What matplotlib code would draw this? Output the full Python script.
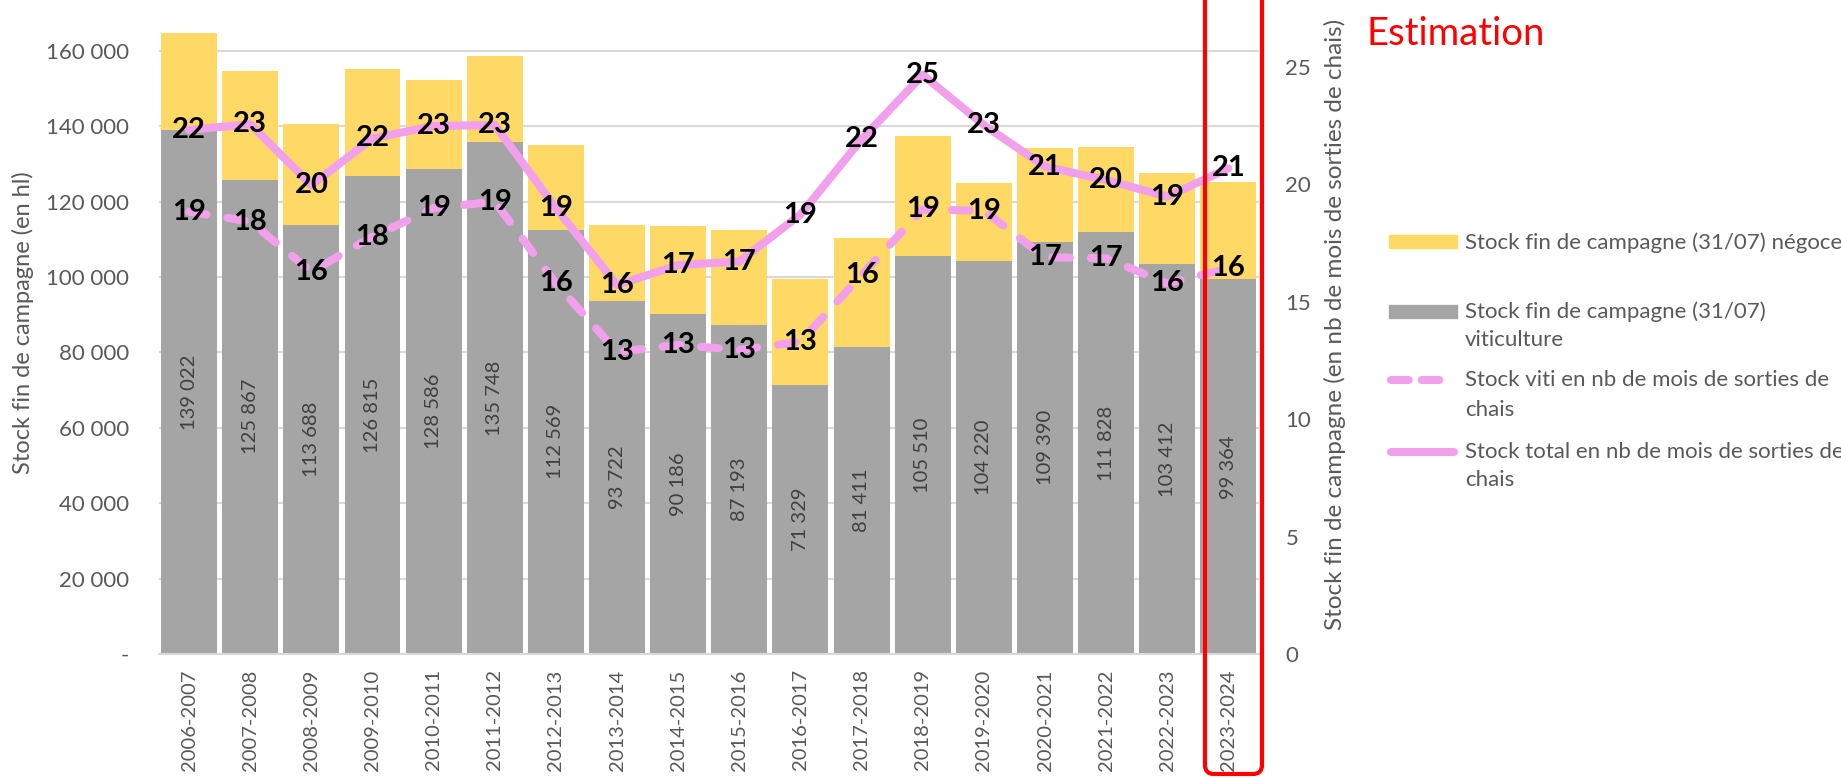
import matplotlib

matplotlib.use("Agg")
import matplotlib.pyplot as plt
import numpy as np
from matplotlib.lines import Line2D
from matplotlib.patches import FancyBboxPatch, Rectangle
from matplotlib.ticker import FuncFormatter
from matplotlib.transforms import IdentityTransform

campagnes = [
    "2006-2007", "2007-2008", "2008-2009", "2009-2010", "2010-2011", "2011-2012",
    "2012-2013", "2013-2014", "2014-2015", "2015-2016", "2016-2017", "2017-2018",
    "2018-2019", "2019-2020", "2020-2021", "2021-2022", "2022-2023", "2023-2024",
]
stock_viti = [139022, 125867, 113688, 126815, 128586, 135748, 112569, 93722, 90186,
              87193, 71329, 81411, 105510, 104220, 109390, 111828, 103412, 99364]
stock_negoce = [25650, 28740, 26880, 28300, 23790, 22820, 22370, 20160, 23430,
                25380, 28210, 28920, 32010, 20690, 24760, 22640, 24140, 25730]
mois_total = [22.3, 22.55, 19.95, 21.94, 22.47, 22.51, 18.97, 15.7, 16.55,
              16.7, 18.7, 21.9, 24.64, 22.51, 20.74, 20.17, 19.46, 20.67]
mois_total_labels = [22, 23, 20, 22, 23, 23, 19, 16, 17, 17, 19, 22, 25, 23, 21, 20, 19, 21]
mois_viti = [18.82, 18.4, 16.27, 17.76, 18.97, 19.25, 15.77, 12.86, 13.15,
             12.94, 13.29, 16.13, 18.92, 18.86, 16.88, 16.84, 15.77, 16.41]
mois_viti_labels = [19, 18, 16, 18, 19, 19, 16, 13, 13, 13, 13, 16, 19, 19, 17, 17, 16, 16]

YELLOW = "#FFD966"
GREY = "#A5A5A5"
PINK = "#F2A0EC"
TXT = "#595959"
GRID = "#D9D9D9"

plt.rcParams["font.family"] = ["Lato", "DejaVu Sans"]

W, H = 1841, 778
fig = plt.figure(figsize=(W / 100, H / 100), dpi=100)


def fx(px):
    return px / W


def fy(py):
    return 1 - py / H


# plot area: x 158..1259 px, y 0..654 px
ax = fig.add_axes([fx(158.5), fy(654), fx(1259) - fx(158.5), fy(0) - fy(654)])
ax2 = ax.twinx()

x = np.arange(len(campagnes))
ax.bar(x, stock_viti, width=0.915, color=GREY, zorder=2)
ax.bar(x, stock_negoce, bottom=stock_viti, width=0.915, color=YELLOW, zorder=2)
for i, v in enumerate(stock_viti):
    ax.text(i, v / 2, f"{v:,}".replace(",", " "), rotation=90, ha="center",
            va="center", fontsize=14.5, color="#404040", zorder=3)

ax.set_xlim(-0.5, len(campagnes) - 0.5)
ax.set_ylim(0, 173500)
ax.set_yticks(np.arange(0, 160001, 20000))
ax.yaxis.set_major_formatter(
    FuncFormatter(lambda v, _: "-" if v == 0 else f"{int(v):,}".replace(",", " ")))
ax.grid(axis="y", color=GRID, lw=1.5, zorder=0)
ax.set_axisbelow(True)
ax.set_xticks(x)
ax.set_xticklabels(campagnes, rotation=90, fontsize=14.5, color=TXT)
ax.tick_params(axis="x", length=0, pad=11)
ax.tick_params(axis="y", length=0, pad=21, labelsize=16, labelcolor=TXT)
for side in ["top", "left", "right"]:
    ax.spines[side].set_visible(False)
ax.spines["bottom"].set_color(GRID)
ax.spines["bottom"].set_linewidth(1.5)

ax2.plot(x, mois_viti, color=PINK, lw=5.8, ls=(0, (2.2, 2.6)),
         dash_capstyle="round", zorder=3)
ax2.plot(x, mois_total, color=PINK, lw=5.8, solid_capstyle="round", zorder=3)
for i in x:
    ax2.text(i, mois_viti[i], str(mois_viti_labels[i]), ha="center", va="center",
             fontsize=21, fontweight="bold", color="black", zorder=4)
    ax2.text(i, mois_total[i], str(mois_total_labels[i]), ha="center", va="center",
             fontsize=21, fontweight="bold", color="black", zorder=4)
ax2.set_ylim(0, 27.83)
ax2.set_yticks([0, 5, 10, 15, 20, 25])
ax2.tick_params(axis="y", length=0, pad=19, labelsize=16, labelcolor=TXT)
for side in ax2.spines:
    ax2.spines[side].set_visible(False)

fig.text(fx(23), fy(323), "Stock fin de campagne (en hl)", rotation=90,
         ha="center", va="center", fontsize=17, color=TXT)
fig.text(fx(1335), fy(324), "Stock fin de campagne (en nb de mois de sorties de chais)",
         rotation=90, ha="center", va="center", fontsize=17.5, color=TXT)

# estimation box around the last campaign
fig.add_artist(FancyBboxPatch((1205, 4), 57, 830, boxstyle="round,pad=0,rounding_size=9",
                              transform=IdentityTransform(), fill=False,
                              ec="#FF0000", lw=3, clip_on=False))
fig.text(fx(1367), fy(34), "Estimation", ha="left", va="center", fontsize=27.5,
         color="#FF0000")

# legend
ident = IdentityTransform()
fig.add_artist(Rectangle((1389, H - 248), 68, 13, transform=ident, color=YELLOW))
fig.add_artist(Rectangle((1389, H - 318), 68, 13, transform=ident, color=GREY))
fig.add_artist(Line2D([1391, 1452], [H - 380, H - 380], transform=ident, color=PINK,
                      lw=5.8, ls=(0, (2.2, 1.6)), dash_capstyle="round"))
fig.add_artist(Line2D([1391, 1454], [H - 452, H - 452], transform=ident, color=PINK,
                      lw=5.8, solid_capstyle="round"))
legend_lines = [
    ("Stock fin de campagne (31/07) négoce", 243),
    ("Stock fin de campagne (31/07)", 312),
    ("viticulture", 340),
    ("Stock viti en nb de mois de sorties de", 380),
    ("chais", 410),
    ("Stock total en nb de mois de sorties de", 452),
    ("chais", 480),
]
for txt, yy in legend_lines:
    fig.text(fx(1465), fy(yy), txt, ha="left", va="center", fontsize=16, color=TXT)

fig.savefig("out.png", dpi=100)
